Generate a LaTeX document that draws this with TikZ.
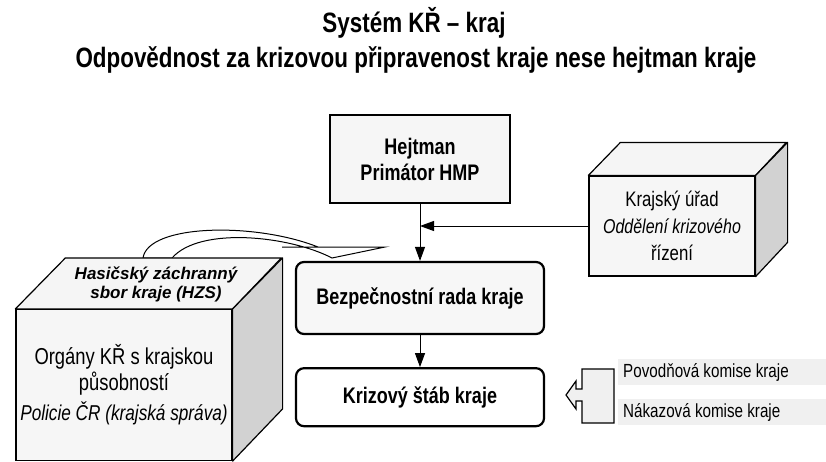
\documentclass[tikz,border=0pt]{standalone}
\usepackage{fontspec}
\setmainfont{Liberation Sans}[FakeStretch=0.8]
\newfontfamily\widefont{Liberation Sans}
\usetikzlibrary{arrows.meta,positioning,calc}

\tikzset{
  flatbox/.style={draw, line width=1.2pt, fill=gray!7, align=center},
  roundbox/.style={draw, line width=2.2pt, rounded corners=8pt, align=center, minimum width=248pt},
  face/.style={draw, line width=1.2pt, line join=round},
  strip/.style={fill=gray!12, anchor=west, minimum height=26pt, inner xsep=5pt, font=\fontsize{19}{22}\selectfont},
  link/.style={-{Triangle[length=14pt,width=10pt]}, line width=1pt},
}

\begin{document}
\begin{tikzpicture}[x=1pt, y=-1pt, every node/.style={font=\bfseries\fontsize{22.5}{26}\selectfont}]
  \useasboundingbox (0,0) rectangle (826,461);

  % heading
  \node[font=\bfseries\fontsize{28}{30}\selectfont, anchor=base] (title) at (414,32) {Systém KŘ – kraj};
  \node[font=\bfseries\fontsize{28}{30}\selectfont, anchor=base] (subtitle) at (416,67) {Odpovědnost za krizovou připravenost kraje nese hejtman kraje};

  % middle column
  \node[flatbox, minimum width=180pt, minimum height=88pt] (hejtman) at (420,159) {Hejtman\\Primátor HMP};
  \node[roundbox, fill=gray!6, minimum height=72pt] (rada) at (420,298) {Bezpečnostní rada kraje};
  \node[roundbox, minimum height=58pt, below=32pt of rada] (stab) {Krizový štáb kraje};

  % regional office (box)
  \node[flatbox, minimum width=166pt, minimum height=100pt, font=\fontsize{21}{27}\selectfont] (urad) at (672,226)
    {Krajský úřad\\\itshape\fontsize{20}{27}\selectfont Oddělení krizového\\řízení};
  \draw[face, fill=gray!8] (urad.north west) -- ++(32,-33) -- ++(166,0) -- (urad.north east) -- cycle;
  \draw[face, fill=gray!35] (urad.north east) -- ++(32,-33) -- ++(0,100) -- (urad.south east) -- cycle;

  % curved hollow arrow
  \draw[line width=1pt, fill=white] (143,258) .. controls (148,224) and (255,222) .. (318,247) -- (282,247) -- (385,247)
    -- (332,258) .. controls (290,236) and (200,226) .. (172,258) -- cycle;

  % regional bodies (box)
  \node[flatbox, minimum width=216pt, minimum height=151pt, font=\fontsize{23}{26}\selectfont] (organy) at (124,385)
    {Orgány KŘ s krajskou\\působností\\[4pt]\itshape\fontsize{21.5}{24}\selectfont Policie ČR (krajská správa)};
  \draw[face, fill=gray!8] (organy.north west) -- ++(50,-51) -- ++(216,0) -- (organy.north east) -- cycle;
  \draw[face, fill=gray!35] (organy.north east) -- ++(50,-51) -- ++(0,151) -- (organy.south east) -- cycle;
  \node[font=\widefont\bfseries\itshape\fontsize{17}{19}\selectfont, align=center] (hzs) at (156,284) {Hasičský záchranný\\sbor kraje (HZS)};

  % commissions
  \node[strip] (povodnova) at (618,372) {\makebox[198pt][l]{Povodňová komise kraje}};
  \node[strip] (nakazova) at (618,412) {\makebox[198pt][l]{Nákazová komise kraje}};
  \draw[line width=1.2pt, fill=gray!12] (582,369) -- (614,369) -- (614,423) -- (582,423) -- (582,401) -- (576,401)
    -- (576,409) -- (566,395) -- (576,381) -- (576,389) -- (582,389) -- cycle;

  % connectors
  \coordinate (join) at (urad.west -| rada.north);
  \draw[link] (hejtman) -- (rada);
  \draw[link] (rada) -- (stab);
  \draw[link] (urad.west) -- (join);
\end{tikzpicture}
\end{document}
